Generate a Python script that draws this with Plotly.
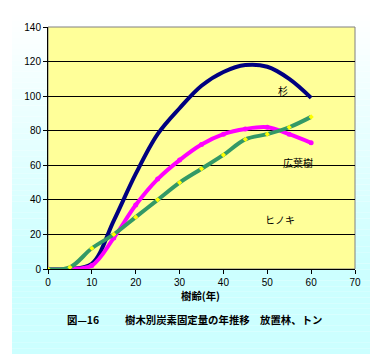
import plotly.graph_objects as go

ages = [0, 5, 10, 15, 20, 25, 30, 35, 40, 45, 50, 55, 60]
sugi = [0, 0, 3, 28, 55, 78, 93, 106, 114, 118, 117, 110, 99]
koyoju = [0, 0, 2, 18, 37, 52, 63, 72, 78, 81, 82, 78, 73]
hinoki = [0, 1, 12, 20, 30, 40, 50, 58, 66, 75, 78, 82, 88]

labels = ["杉", "広葉樹", "ヒノキ"]
label_x = [53.6, 57, 53]
label_y = [103, 61.5, 28.5]

OFF = 8  # browser default body margin
W, H = 378 - OFF, 364 - OFF
# plot area in page pixels
L, R, T, B = 48, 355, 27, 269

def px(xp):
    return (xp - L) / (R - L)

def py(yp):
    return (B - yp) / (B - T)

JP = "Noto Sans CJK JP"
FONT = "Liberation Sans, Arial, sans-serif"

fig = go.Figure()
fig.add_trace(go.Scatter(x=ages, y=sugi, mode="lines", line=dict(color="#000080", width=4, shape="spline"),
                         showlegend=False))
fig.add_trace(go.Scatter(x=ages, y=koyoju, mode="lines+markers", line=dict(color="#ff00ff", width=4, shape="spline"),
                         marker=dict(color="#ff00ff", size=5), showlegend=False))
fig.add_trace(go.Scatter(x=ages, y=hinoki, mode="lines+markers", line=dict(color="#339966", width=4, shape="spline"),
                         marker=dict(color="#ffff00", size=4, symbol="diamond"), showlegend=False))

shapes = []
# background gradient (white -> light cyan)
n = 60
top_px, full_px, bot_px = 15, 265, 354
for i in range(n):
    y0 = top_px + (bot_px - top_px) * i / n
    y1 = top_px + (bot_px - top_px) * (i + 1) / n
    t = min(1.0, max(0.0, ((y0 + y1) / 2 - top_px) / (full_px - top_px)))
    r = round(255 - (255 - 204) * t)
    shapes.append(dict(type="rect", xref="paper", yref="paper", x0=px(12), x1=px(370), y0=py(y1), y1=py(y0),
                       fillcolor=f"rgb({r},255,255)", line=dict(width=0), layer="below"))
# plot area
shapes.append(dict(type="rect", xref="paper", yref="paper", x0=0, x1=1, y0=0, y1=1,
                   fillcolor="#ffff99", line=dict(color="#808080", width=1), layer="below"))
fig.update_layout(shapes=shapes)

for t, x, y in zip(labels, label_x, label_y):
    fig.add_annotation(x=x, y=y, text=t, showarrow=False, font=dict(family=JP, size=10, color="#000000"))

fig.add_annotation(xref="paper", yref="paper", x=px(200), y=py(305), text="<b>樹齢(年)</b>", showarrow=False,
                   font=dict(family=JP, size=10.4, color="#000000"))
fig.add_annotation(xref="paper", yref="paper", x=px(65), y=py(329), xanchor="left",
                   text="<b>図—16</b>", showarrow=False,
                   font=dict(family=JP, size=10.4, color="#000000"))
fig.add_annotation(xref="paper", yref="paper", x=px(123), y=py(329), xanchor="left",
                   text="<b>樹木別炭素固定量の年推移　放置林、トン</b>", showarrow=False,
                   font=dict(family=JP, size=10.4, color="#000000"))

fig.update_xaxes(range=[0, 70], tickvals=[0, 10, 20, 30, 40, 50, 60, 70], showgrid=False, zeroline=False,
                 showline=True, linecolor="#000000", linewidth=1, ticks="outside", ticklen=4, tickcolor="#000000",
                 tickfont=dict(family=FONT, size=10, color="#000000"), fixedrange=True)
fig.update_yaxes(range=[0, 140], tickvals=[0, 20, 40, 60, 80, 100, 120, 140], showgrid=True, gridcolor="#000000",
                 gridwidth=1, zeroline=False, showline=True, linecolor="#000000", linewidth=1, ticks="outside",
                 ticklen=4, tickcolor="#000000", tickfont=dict(family=FONT, size=10, color="#000000"), fixedrange=True)

fig.update_layout(width=W, height=H,
                  margin=dict(l=L - OFF, r=W - (R - OFF), t=T - OFF, b=H - (B - OFF)),
                  paper_bgcolor="#ffffff", plot_bgcolor="rgba(0,0,0,0)", showlegend=False)

fig.write_html("out.html")
